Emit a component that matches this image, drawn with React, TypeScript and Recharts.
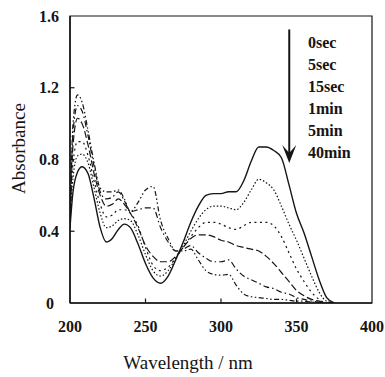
import React from 'react';
import { LineChart, Line, XAxis, YAxis, Legend, ReferenceLine, ReferenceArea } from 'recharts';

const WAVELENGTHS = [
  200, 202, 205, 208, 212, 216, 220, 224, 228, 232, 236, 240, 245, 250, 255, 260, 265, 270, 275, 280,
  285, 290, 295, 300, 305, 310, 315, 320, 325, 330, 335, 340, 345, 350, 355, 360, 365, 370, 375,
];

const SEC0 = [
  0.42, 0.62, 0.73, 0.76, 0.72, 0.58, 0.42, 0.34, 0.36, 0.41, 0.44, 0.42, 0.33, 0.22, 0.14, 0.11, 0.15, 0.24, 0.34, 0.45,
  0.54, 0.6, 0.61, 0.61, 0.62, 0.62, 0.68, 0.79, 0.87, 0.87, 0.85, 0.81, 0.66, 0.5, 0.39, 0.26, 0.13, 0.03, 0,
];
const SEC5 = [
  0.45, 0.7, 0.82, 0.83, 0.78, 0.64, 0.5, 0.42, 0.43, 0.46, 0.47, 0.46, 0.38, 0.27, 0.18, 0.15, 0.18, 0.25, 0.32, 0.4,
  0.47, 0.52, 0.54, 0.54, 0.53, 0.52, 0.56, 0.63, 0.69, 0.67, 0.63, 0.54, 0.44, 0.35, 0.25, 0.15, 0.06, 0.01, 0,
];
const SEC15 = [
  0.45, 0.78, 0.9, 0.9, 0.82, 0.68, 0.55, 0.48, 0.49, 0.52, 0.52, 0.5, 0.43, 0.31, 0.21, 0.18, 0.2, 0.25, 0.31, 0.37,
  0.42, 0.45, 0.45, 0.44, 0.42, 0.41, 0.43, 0.45, 0.45, 0.45, 0.43, 0.37, 0.28, 0.19, 0.12, 0.06, 0.02, 0, 0,
];
const MIN1 = [
  0.45, 0.88, 1.03, 1.0, 0.88, 0.72, 0.6, 0.54, 0.55, 0.58, 0.55, 0.5, 0.42, 0.32, 0.26, 0.23, 0.23, 0.26, 0.31, 0.36,
  0.38, 0.38, 0.37, 0.35, 0.34, 0.32, 0.31, 0.3, 0.29, 0.26, 0.22, 0.17, 0.12, 0.07, 0.04, 0.02, 0.01, 0, 0,
];
const MIN5 = [
  0.45, 0.95, 1.1, 1.07, 0.93, 0.76, 0.62, 0.58, 0.59, 0.62, 0.57, 0.51, 0.52, 0.53, 0.53, 0.42, 0.34, 0.29, 0.3, 0.32,
  0.28, 0.25, 0.23, 0.23, 0.24, 0.19, 0.15, 0.13, 0.11, 0.09, 0.08, 0.06, 0.05, 0.03, 0.02, 0.01, 0.005, 0, 0,
];
const MIN40 = [
  0.45, 1.0, 1.16, 1.12, 0.96, 0.78, 0.64, 0.62, 0.62, 0.63, 0.58, 0.51, 0.56, 0.63, 0.65, 0.46, 0.36, 0.29, 0.29, 0.3,
  0.24, 0.18, 0.16, 0.155, 0.16, 0.1, 0.05, 0.035, 0.03, 0.025, 0.02, 0.02, 0.015, 0.01, 0.01, 0.005, 0, 0, 0,
];

const SERIES_NAMES = ['0sec', '5sec', '15sec', '1min', '5min', '40min'];
const SERIES_VALUES = [SEC0, SEC5, SEC15, MIN1, MIN5, MIN40];
const X_TICKS = [200, 250, 300, 350, 400];
const Y_TICKS = [0, 0.4, 0.8, 1.2, 1.6];

const INK = '#151515';
const SERIF = 'Liberation Serif';
const DASHES = [undefined, '1.5 2', '2 3.5', '7 3', '6 3 1.5 3', '5 2.5 1.5 2.5 1.5 2.5'];
const WIDTHS = [1.4, 1.2, 1.2, 1.2, 1.2, 1.2];

const data = WAVELENGTHS.map((w, i) => {
  const row: Record<string, number> = { wavelength: w };
  SERIES_NAMES.forEach((name, s) => {
    row[name] = SERIES_VALUES[s][i];
  });
  return row;
});

const XTick = (props: any) => {
  const { x, y, payload } = props;
  return (
    <text x={x} y={y} textAnchor="middle" dy="0.71em" fontFamily={SERIF} fontWeight="bold" fontSize={16} fill={INK}>
      {String(payload.value)}
    </text>
  );
};

const YTick = (props: any) => {
  const { x, y, payload } = props;
  const zero = payload.value === 0;
  return (
    <text
      x={zero ? x - 20 : x - 11}
      y={y}
      dy="0.35em"
      textAnchor={zero ? 'middle' : 'end'}
      fontFamily={SERIF}
      fontWeight="bold"
      fontSize={16}
      fill={INK}
    >
      {String(payload.value)}
    </text>
  );
};

const Arrow = (props: any) => {
  const { x1, y1, x2, y2 } = props;
  return (
    <g>
      <line x1={x1} y1={y1} x2={x2} y2={y2 - 8} stroke={INK} strokeWidth={2} />
      <polygon points={`${x2},${y2} ${x2 - 7},${y2 - 18} ${x2},${y2 - 10} ${x2 + 7},${y2 - 18}`} fill={INK} />
    </g>
  );
};

// legend keeps the series order of the figure
const LegendList = () => (
  <div style={{ fontFamily: SERIF, fontWeight: 'bold', fontSize: 16, color: INK, lineHeight: '22px' }}>
    {SERIES_NAMES.map((name) => (
      <div key={name}>{name}</div>
    ))}
  </div>
);

export default function App() {
  return (
    <div style={{ position: 'absolute', left: 0, top: 0, background: '#fff' }}>
      <LineChart width={385} height={377} data={data} margin={{ top: 16, right: 13, bottom: 0, left: 0 }}>
        <XAxis
          type="number"
          dataKey="wavelength"
          domain={[200, 400]}
          ticks={X_TICKS}
          allowDataOverflow
          height={74}
          tickLine={false}
          tickSize={0}
          tickMargin={18}
          tick={<XTick />}
          stroke={INK}
          strokeWidth={1.5}
          label={{ value: 'Wavelength / nm', position: 'center', dx: -33, dy: 22, fontFamily: SERIF, fontSize: 19, fill: INK }}
        />
        <YAxis
          type="number"
          domain={[0, 1.6]}
          ticks={Y_TICKS}
          allowDataOverflow
          width={70}
          tickLine={false}
          tickSize={0}
          tickMargin={0}
          tick={<YTick />}
          stroke={INK}
          strokeWidth={1.5}
          label={{ value: 'Absorbance', angle: -90, position: 'center', dx: -17, dy: -11, fontFamily: SERIF, fontSize: 19, fill: INK }}
        />
        <ReferenceArea x1={200} x2={400} y1={0} y2={1.6} fill="none" stroke={INK} strokeWidth={1.2} />
        {[0.4, 0.8, 1.2].map((v) => (
          <ReferenceLine key={'y' + v} segment={[{ x: 200, y: v }, { x: 203, y: v }]} stroke={INK} strokeWidth={1.2} />
        ))}
        {[250, 300, 350].map((v) => (
          <ReferenceLine key={'x' + v} segment={[{ x: v, y: 0 }, { x: v, y: 0.025 }]} stroke={INK} strokeWidth={1.2} />
        ))}
        <ReferenceLine segment={[{ x: 345.2, y: 1.525 }, { x: 345.2, y: 0.78 }]} shape={<Arrow />} />
        <Legend
          layout="vertical"
          align="center"
          verticalAlign="middle"
          content={<LegendList />}
          wrapperStyle={{ left: 308, top: 32, width: 'auto' }}
        />
        {SERIES_NAMES.map((name, s) => (
          <Line
            key={name}
            type="monotone"
            dataKey={name}
            name={name}
            stroke={INK}
            strokeWidth={WIDTHS[s]}
            strokeDasharray={DASHES[s]}
            dot={false}
            activeDot={false}
            isAnimationActive={false}
          />
        ))}
      </LineChart>
    </div>
  );
}
